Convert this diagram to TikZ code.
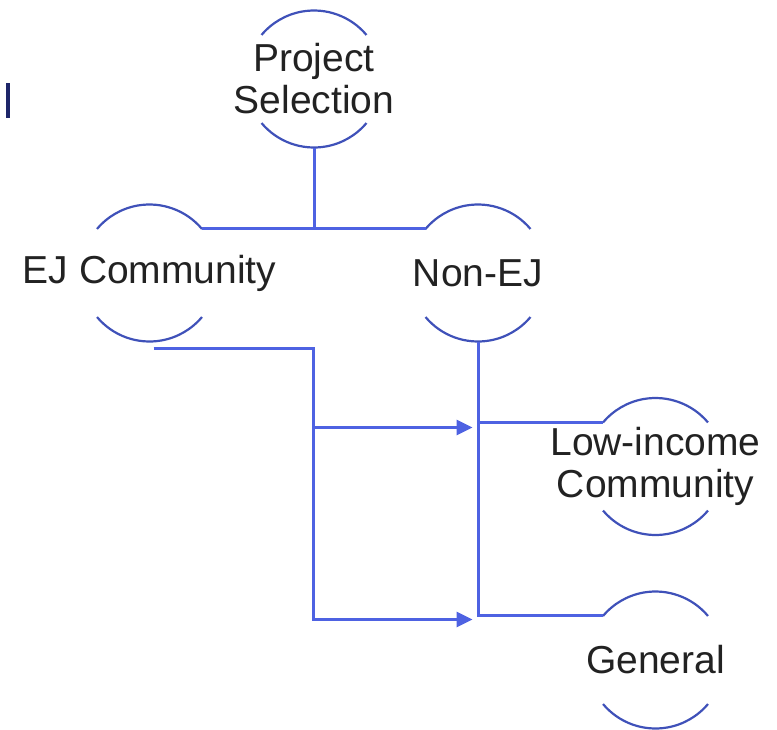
\documentclass[tikz,border=0pt]{standalone}
\usepackage{fontspec}
\setmainfont{Liberation Sans}
\usetikzlibrary{arrows.meta}
\definecolor{arccol}{RGB}{63,81,185}
\definecolor{conncol}{RGB}{78,98,226}
\definecolor{barcol}{RGB}{30,38,105}
\definecolor{txtcol}{RGB}{34,34,34}
\begin{document}
\begin{tikzpicture}[x=1pt,y=1pt,
  capnode/.style={circle, inner sep=0pt, draw=none,
    align=center, text=txtcol, font=\fontsize{39}{42}\selectfont},
  arcline/.style={draw=arccol, line width=2.2pt},
  conn/.style={draw=conncol, line width=3pt},
  tip/.style={-{Triangle[length=16pt,width=15pt]}}]
\useasboundingbox (0,0) rectangle (777,-729);
\def\R{68.5}
\node[capnode] (ps)  at (314,-79)    {Project\\Selection};
\node[capnode] (ej)  at (149.5,-273) {EJ Community};
\node[capnode] (nej) at (478,-273)   {Non-EJ};
\node[capnode] (low) at (655.5,-466.5) {Low-income\\Community};
\node[capnode] (gen) at (655.5,-660) {General};
\foreach \n in {ps,ej,nej,low,gen}{
  \draw[arcline] ([shift={(40:\R)}]\n.center) arc[start angle=40, end angle=140, radius=\R];
  \draw[arcline] ([shift={(220:\R)}]\n.center) arc[start angle=220, end angle=320, radius=\R];
}
% top tree
\draw[conn] ([shift={(0,-\R)}]ps.center) -- ([shift={(0,-150)}]ps.center);
\draw[conn] ([shift={(40:\R)}]ej.center) -- ([shift={(140:\R)}]nej.center);
% EJ branch with arrows
\coordinate (ejout) at ([shift={(4,-75)}]ej.center);
\coordinate (ejknee) at (313,-348);
\coordinate (a1) at (472.5,-427.5);
\coordinate (a2) at (472.5,-619.5);
\draw[conn,tip] (ejknee |- a1) -- (a1);
\draw[conn,tip] (ejout) -- (ejknee) -- (ejknee |- a2) -- (a2);
% Non-EJ branch
\coordinate (nejout) at ([shift={(0,-\R)}]nej.center);
\coordinate (lowin) at ([shift={(140:\R)}]low.center);
\coordinate (genin) at ([shift={(140:\R)}]gen.center);
\draw[conn] (nejout) -- (nejout |- genin) -- (genin);
\draw[conn] (nejout |- lowin) -- (lowin);
% stray bar at left
\draw[barcol, line width=3.2pt] (8,-83) -- (8,-118);
\end{tikzpicture}
\end{document}
